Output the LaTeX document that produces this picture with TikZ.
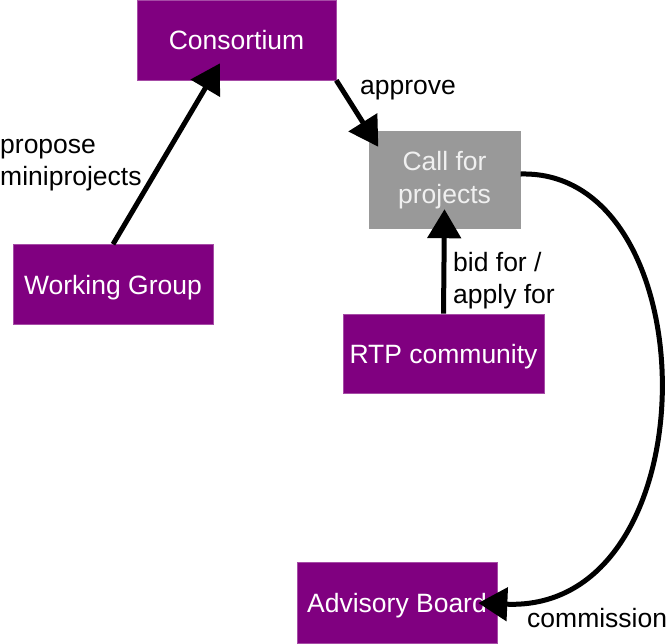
\documentclass[tikz,border=0pt]{standalone}
\usepackage{fontspec}
\setmainfont{Liberation Sans}
\usetikzlibrary{positioning,arrows.meta}
\definecolor{plum}{HTML}{800080}
\definecolor{callgray}{HTML}{999999}
\tikzset{
  box/.style={rectangle, minimum width=200pt, minimum height=80pt, inner sep=0pt, align=center, font=\fontsize{26.5}{33}\selectfont},
  purplebox/.style={box, fill=plum, draw=plum!70!white, line width=0.6pt, text=white, text depth=0pt},
  graybox/.style={box, fill=callgray, text=white!94!black},
  fwd/.style={-{Triangle[length=29pt,width=33pt]}, line width=5pt},
  lab/.style={font=\fontsize{26.5}{31.5}\selectfont, align=left, inner sep=0pt},
}
\begin{document}
\begin{tikzpicture}[x=1pt,y=-1pt]
  \useasboundingbox (0,0) rectangle (669,643);
  \node[purplebox, minimum width=199pt] (consortium) at (236.5,40) {Consortium};
  \node[graybox, minimum width=152pt, minimum height=98pt] (callproj) at (444.5,180) {Call for\\projects};
  \node[purplebox] (workgroup) at (113,284.5) {Working Group};
  \node[purplebox, minimum width=201pt, minimum height=79pt] (rtp) at (443.5,353.5) {RTP community};
  \node[purplebox, minimum height=81pt] (advisory) at (397,603) {Advisory Board};

  % multi-line labels: base = last line
  \node[lab, anchor=base west] (lblpropose) at (0,185) {propose\\miniprojects};
  \node[lab, anchor=base west] (lblapprove) at (360,94) {approve};
  \node[lab, anchor=base west] (lblbid) at (453,303) {bid for /\\apply for};
  \node[lab, anchor=base west] (lblcommission) at (527,627) {commission};

  \draw[fwd] (workgroup.north) -- ([xshift=-16.5pt,yshift=17pt]consortium.south);
  \draw[fwd] (consortium.south east) -- ([xshift=10pt,yshift=-16pt]callproj.north west);
  \draw[fwd] (rtp.north) -- ([yshift=20pt]callproj.south);
  \draw[fwd] ([yshift=6pt]callproj.east) .. controls +(190,-5) and +(235,10) .. ([xshift=-19pt]advisory.east);
\end{tikzpicture}
\end{document}
